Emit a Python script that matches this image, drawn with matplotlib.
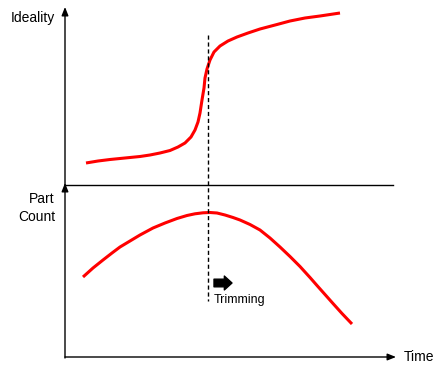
import numpy as np
import matplotlib
matplotlib.use('Agg')
import matplotlib.pyplot as plt

plt.rcParams['font.family'] = ['Liberation Sans', 'DejaVu Sans']
plt.rcParams['font.size'] = 10

# curves (pixel space: x right, y down)
ideality_x = [86, 98, 110, 125, 140, 150, 160, 170, 178, 185, 191, 195, 198, 200, 202, 204, 205, 207, 210, 214, 220, 228, 237, 248, 260, 277, 290, 305, 320, 340]
ideality_y = [163, 161, 159.5, 158, 156.5, 155, 153, 150.5, 147, 143, 137, 130, 122, 113, 100, 88, 78, 69, 60, 52, 46, 41, 37, 33, 29, 24.5, 21, 18, 16, 13]

count_x = [83, 93, 103, 112, 120, 130, 140, 153, 165, 177, 187, 195, 203, 210, 217, 225, 233, 240, 250, 260, 270, 280, 290, 300, 310, 317, 325, 333, 342, 352]
count_y = [277, 268, 260, 253, 247, 241, 235, 228, 223, 218.5, 215.5, 213.8, 212.8, 212.5, 213, 215, 217.5, 220, 224.5, 230, 238, 247, 256.5, 266.5, 277.5, 285.5, 294.5, 303.5, 313.5, 324]

trim_x = 208

fig = plt.figure(figsize=(4.46, 3.71), dpi=100)
ax = fig.add_axes([0, 0, 1, 1])
ax.set_xlim(0, 446)
ax.set_ylim(371, 0)
ax.axis('off')

arrow = dict(arrowstyle='-|>,head_length=0.5,head_width=0.2', color='black', lw=1, shrinkA=0, shrinkB=0)

# top panel axes
ax.annotate('', xy=(65, 7), xytext=(65, 185), arrowprops=arrow)
ax.plot([65, 393], [185, 185], color='black', lw=1)
# bottom panel axes
ax.annotate('', xy=(65, 183), xytext=(65, 358), arrowprops=arrow)
ax.annotate('', xy=(396, 357), xytext=(65, 357), arrowprops=arrow)

# curves
ax.plot(ideality_x, ideality_y, color='red', lw=2.2, solid_capstyle='butt', solid_joinstyle='round')
ax.plot(count_x, count_y, color='red', lw=2.2, solid_capstyle='butt', solid_joinstyle='round')

# trimming marker
ax.plot([trim_x, trim_x], [35, 301], color='black', lw=1, linestyle=(0, (3, 2)))
ax.annotate('', xy=(232, 283), xytext=(214, 283),
            arrowprops=dict(arrowstyle='simple,head_length=0.55,head_width=1.0,tail_width=0.55',
                            color='black', shrinkA=0, shrinkB=0))
ax.text(214, 300, 'Trimming', fontsize=9, ha='left', va='center')

# labels
ax.text(55, 18, 'Ideality', ha='right', va='center', fontsize=10)
ax.text(55, 208, 'Part\nCount', ha='right', va='center', fontsize=10, linespacing=1.35)
ax.text(404, 357, 'Time', ha='left', va='center', fontsize=10)

plt.savefig('out.png', dpi=100)
